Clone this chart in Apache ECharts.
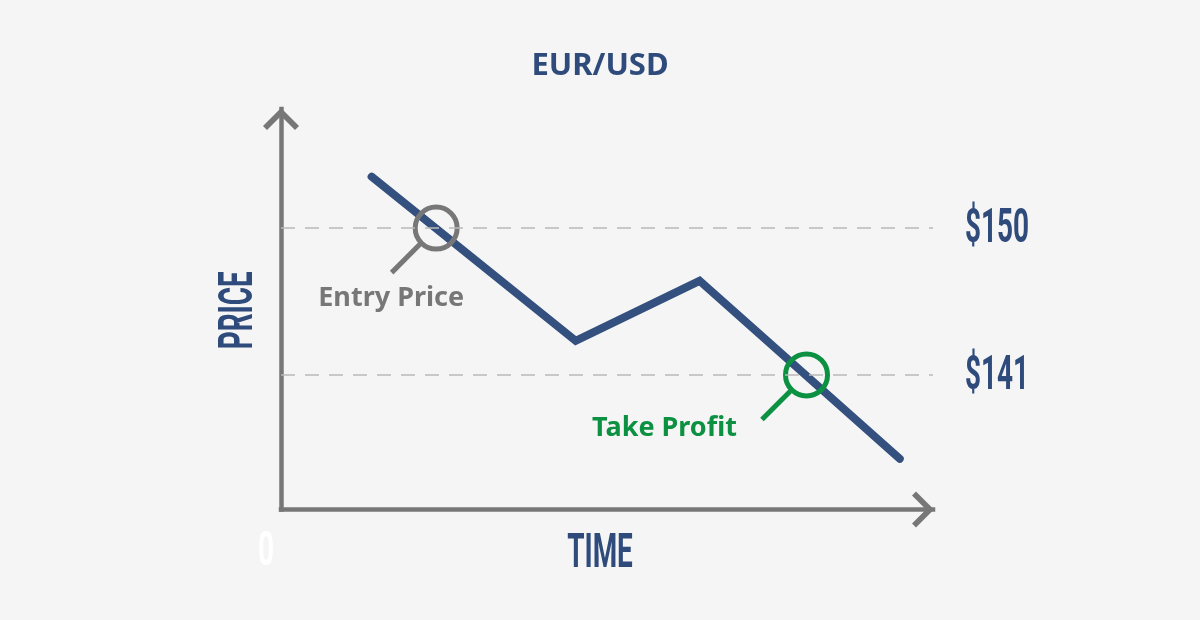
<!DOCTYPE html>
<html>
<head>
<meta charset="utf-8">
<script src="https://cdn.jsdelivr.net/npm/echarts@6/dist/echarts.min.js"></script>
<style>
	html, body { margin: 0; padding: 0; background: #f5f5f5; }
	#main { width: 1200px; height: 620px; }
</style>
</head>
<body>
<div id="main"></div>
<script>
// 价格走势
const timeData = [1.39, 4.52, 6.42, 9.49];
const priceData = [153.15, 143.09, 146.77, 135.86];
// 入场价 / 止盈
const levelNames = ['Entry Price', 'Take Profit'];
const levelPrices = [150, 141];
const levelTimes = [2.38, 8.06];
// 坐标轴范围
const timeRange = [0, 10];
const priceRange = [132.75, 157.3];

(function () {
	let myChart = echarts.init(document.getElementById('main'))

	const navy = '#2f4b7c'
	// 没有窄体字，用横向压缩代替
	const condensedFont = "bold 49px Roboto, sans-serif"
	const squeeze = 0.57
	// 网格位置
	const gridBox = { left: 281, right: 267, top: 109, bottom: 110.5 }
	// 放大镜样式（颜色和文字偏移）
	const markStyles = [
		{ color: '#777777', dx: -45, dy: 70 },
		{ color: '#0b9141', dx: -142, dy: 53 }
	]
	// 箭头（开口）
	const chevron = 'path://M0,9 L9,0 L18,9 L16,11 L9,4 L2,11 Z'

	const axisLine = {
		show: true,
		onZero: false,
		symbol: ['none', chevron],
		symbolSize: [38, 22],
		symbolOffset: [0, -10],
		lineStyle: {
			color: '#777777',
			width: 4.5,
			cap: 'square'
		}
	}

	const option = {
		backgroundColor: '#f5f5f5',
		animation: false,
		title: {
			text: 'EUR/USD',
			left: 'center',
			top: 46,
			textStyle: {
				color: navy,
				fontFamily: "'Noto Sans', sans-serif",
				fontWeight: 'bold',
				fontSize: 31
			}
		},
		grid: Object.assign({ outerBoundsMode: 'none', containLabel: false }, gridBox),
		// 坐标轴标题（压缩字体）
		graphic: [
			{
				type: 'text',
				x: gridBox.left - 41,
				y: (gridBox.top + 620 - gridBox.bottom) / 2 + 1,
				rotation: Math.PI / 2,
				scaleX: squeeze,
				style: { text: 'PRICE', fill: navy, font: condensedFont, align: 'center', verticalAlign: 'middle' }
			},
			{
				type: 'text',
				x: 600,
				y: 620 - gridBox.bottom + 45,
				scaleX: squeeze,
				style: { text: 'TIME', fill: navy, font: condensedFont, align: 'center', verticalAlign: 'middle' }
			},
			{
				type: 'text',
				x: gridBox.left - 15,
				y: 620 - gridBox.bottom + 43,
				scaleX: squeeze,
				style: { text: '0', fill: '#ffffff', font: condensedFont, align: 'center', verticalAlign: 'middle' }
			}
		],
		xAxis: {
			type: 'value',
			min: timeRange[0],
			max: timeRange[1],
			interval: 10,
			axisLine: axisLine,
			axisTick: { show: false },
			splitLine: { show: false },
			axisLabel: { show: false }
		},
		yAxis: {
			type: 'value',
			min: priceRange[0],
			max: priceRange[1],
			axisLine: axisLine,
			axisTick: { show: false },
			splitLine: { show: false },
			axisLabel: { show: false }
		},
		series: [
			{
				name: 'EUR/USD',
				type: 'line',
				data: timeData.map((t, i) => [t, priceData[i]]),
				showSymbol: false,
				symbol: 'none',
				lineStyle: {
					color: '#33507f',
					width: 8,
					cap: 'round',
					join: 'miter'
				},
				markLine: {
					silent: true,
					symbol: 'none',
					lineStyle: {
						color: '#b9b9b9',
						width: 1.5,
						type: [14, 10]
					},
					label: { show: false },
					data: levelPrices.map(v => ({ yAxis: v }))
				},
				z: 2
			},
			{
				// 放大镜标注 + 右侧价格
				type: 'custom',
				data: levelTimes.map((t, i) => [t, levelPrices[i]]),
				renderItem: function (params, api) {
					const p = api.coord([api.value(0), api.value(1)])
					const edge = api.coord([timeRange[1], api.value(1)])
					const s = markStyles[params.dataIndex]
					const k = Math.SQRT1_2
					return {
						type: 'group',
						children: [
							{
								type: 'circle',
								shape: { cx: p[0], cy: p[1], r: 21 },
								style: { fill: 'none', stroke: s.color, lineWidth: 5 }
							},
							{
								type: 'line',
								shape: {
									x1: p[0] - 23 * k, y1: p[1] + 23 * k,
									x2: p[0] - 63 * k, y2: p[1] + 63 * k
								},
								style: { stroke: s.color, lineWidth: 5 }
							},
							{
								type: 'text',
								x: p[0] + s.dx,
								y: p[1] + s.dy,
								style: {
									text: levelNames[params.dataIndex],
									fill: s.color,
									font: "bold 27px 'Noto Sans', sans-serif",
									align: 'center',
									verticalAlign: 'middle'
								}
							},
							{
								type: 'text',
								x: edge[0] + 32,
								y: edge[1] + 2,
								scaleX: squeeze,
								style: {
									text: '$' + api.value(1),
									fill: navy,
									font: condensedFont,
									align: 'left',
									verticalAlign: 'middle'
								}
							}
						]
					}
				},
				z: 3
			}
		]
	}
	myChart.setOption(option)
	window.addEventListener('resize', function () {
		myChart.resize();
	})
})();
</script>
</body>
</html>
